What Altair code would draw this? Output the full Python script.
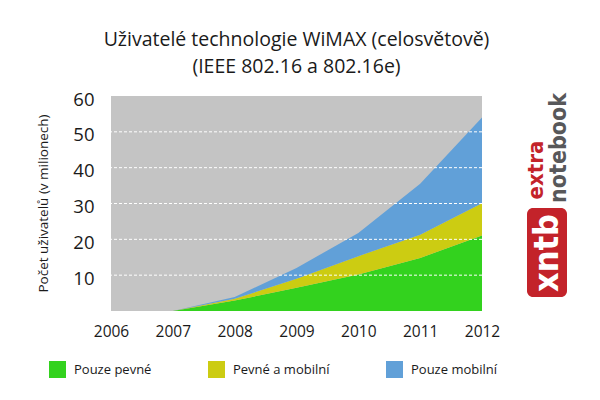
import altair as alt
import pandas as pd

FONT = "Open Sans"

years = [2007, 2008, 2009, 2010, 2011, 2012]
pouze_pevne = [0, 2.9, 6.5, 10.2, 14.8, 21.1]
pevne_a_mobilni = [0, 0.5, 2.5, 5.1, 6.5, 9.0]
pouze_mobilni = [0, 0.5, 3.0, 6.5, 14.2, 23.9]

series = ["Pouze pevné", "Pevné a mobilní", "Pouze mobilní"]
colors = ["#33d21e", "#cccc12", "#61a0d8"]

x_ticks = [2006, 2007, 2008, 2009, 2010, 2011, 2012]
y_ticks = [10, 20, 30, 40, 50, 60]
grid_values = [10, 20, 30, 40, 50]

rows = []
for i, (name, vals) in enumerate(zip(series, [pouze_pevne, pevne_a_mobilni, pouze_mobilni])):
    for yr, v in zip(years, vals):
        rows.append({"rok": yr, "hodnota": v, "rada": name, "poradi": i})
df = pd.DataFrame(rows)

x_scale = alt.Scale(domain=[2006, 2012], nice=False, zero=False)
x_axis = alt.Axis(values=x_ticks, format="d", title=None, grid=False, domain=False,
                  ticks=False, labelFontSize=15.5, labelPadding=13, labelColor="#1a1a1a",
                  labelFont=FONT, labelFlush=False, labelOverlap=False)
y_scale = alt.Scale(domain=[0, 60], nice=False)
y_axis = alt.Axis(values=y_ticks, grid=False, domain=False, ticks=False,
                  labelFontSize=18.5, labelPadding=17, labelOffset=3, labelFlush=False,
                  labelOverlap=False,
                  labelColor="#1a1a1a", labelFont=FONT,
                  title="Počet uživatelů (v milionech)", titleFont=FONT,
                  titleFontSize=13.5, titleFontWeight="normal", titleColor="#1a1a1a",
                  titleAngle=270, titleX=-68, titleY=107, titleAlign="center",
                  titleBaseline="middle")

area = alt.Chart(df).mark_area(interpolate="linear", opacity=1).encode(
    x=alt.X("rok:Q", scale=x_scale, axis=x_axis),
    y=alt.Y("hodnota:Q", stack="zero", scale=y_scale, axis=y_axis),
    color=alt.Color(
        "rada:N", scale=alt.Scale(domain=series, range=colors),
        legend=alt.Legend(orient="none", legendX=-62, legendY=265, direction="horizontal",
                          title=None, symbolType="square", symbolSize=289,
                          symbolStrokeWidth=0, symbolOpacity=1, labelFontSize=13,
                          labelFont=FONT, labelColor="#1a1a1a", columnPadding=56,
                          labelOffset=8),
    ),
    order=alt.Order("poradi:Q"),
)

grid_df = pd.DataFrame({"g": grid_values})
grid = alt.Chart(grid_df).mark_rule(color="white", strokeDash=[3, 2], strokeWidth=1).encode(
    y=alt.Y("g:Q", scale=y_scale, axis=y_axis)
)

one = pd.DataFrame({"k": [0]})
logo_rect = alt.Chart(one).mark_rect(color="#c3232a", cornerRadius=6).encode(
    x=alt.value(416), x2=alt.value(456), y=alt.value(112), y2=alt.value(201)
)
logo_xntb = alt.Chart(one).mark_text(text="xntb", angle=270, font="DejaVu Sans Condensed",
                                     fontWeight="bold", fontSize=34, color="white",
                                     align="center", baseline="middle").encode(
    x=alt.value(437), y=alt.value(157)
)
logo_extra = alt.Chart(one).mark_text(text="extra", angle=270, font="DejaVu Sans Condensed",
                                      fontWeight="bold", fontSize=22, color="#c3232a",
                                      align="center", baseline="middle").encode(
    x=alt.value(425), y=alt.value(74)
)
logo_nb = alt.Chart(one).mark_text(text="notebook", angle=270, font="DejaVu Sans Condensed",
                                   fontWeight="bold", fontSize=23, color="#58585a",
                                   align="center", baseline="middle").encode(
    x=alt.value(448), y=alt.value(52)
)

chart = alt.layer(area, grid, logo_rect, logo_xntb, logo_extra, logo_nb).properties(
    width=371, height=215,
    background="white",
    title=alt.TitleParams(["Uživatelé technologie WiMAX (celosvětově)", "(IEEE 802.16 a 802.16e)"],
                          font=FONT, fontSize=19.5, fontWeight="normal", color="#1a1a1a",
                          anchor="middle", offset=13, lineHeight=27),
    autosize=alt.AutoSizeParams(type="none"),
    padding={"left": 103, "top": 88, "right": 110, "bottom": 81},
).configure_view(fill="#c4c4c4", strokeWidth=0)

chart.save("out.html", embed_options={"renderer": "svg", "actions": False})
